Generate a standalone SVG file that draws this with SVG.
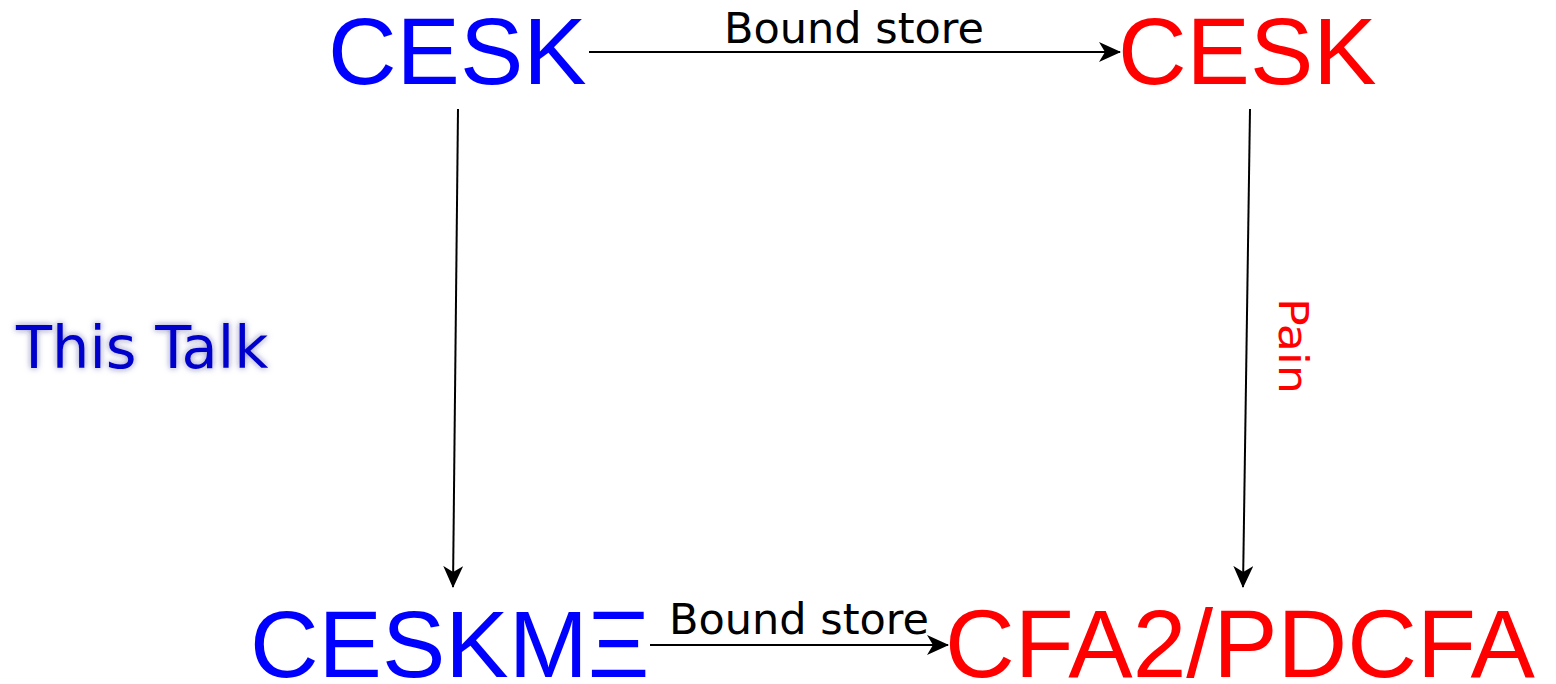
<svg xmlns="http://www.w3.org/2000/svg" width="1556" height="684" viewBox="0 0 1556 684">
<style>
.big{font-family:"Liberation Sans",Arial,sans-serif;font-size:95px}
.blue{fill:#0000ff}
.red{fill:#ff0000}
.lbl{font-family:"DejaVu Sans",sans-serif;font-size:43px;fill:#000}
.edge{stroke:#000;stroke-width:2;fill:none;marker-end:url(#ah)}
</style>
<defs>
<marker id="ah" viewBox="0 0 22 20" refX="21" refY="10" markerWidth="22" markerHeight="20" markerUnits="userSpaceOnUse" orient="auto">
<path d="M0,0 L22,10 L0,20 L6,10 Z" fill="#000"/>
</marker>
<filter id="shadow" x="-10%" y="-30%" width="120%" height="160%">
<feGaussianBlur in="SourceAlpha" stdDeviation="3" result="b"/>
<feFlood flood-color="#202080" flood-opacity="0.55"/>
<feComposite operator="in" in2="b" result="s"/>
<feMerge><feMergeNode in="s"/><feMergeNode in="SourceGraphic"/></feMerge>
</filter>
</defs>
<g id="connectors">
<path class="edge" d="M589,52 L1120,52"/>
<path class="edge" d="M458,109 L453,587"/>
<path class="edge" d="M1250,109 L1243,587"/>
<path class="edge" d="M650,645 L948,645"/>
<text class="lbl" x="724" y="43">Bound store</text>
<text class="lbl" x="669" y="634">Bound store</text>
<text x="1279" y="298" transform="rotate(90 1279 298)" textLength="96" lengthAdjust="spacingAndGlyphs" style="font-family:'DejaVu Sans',sans-serif;font-size:40px" class="red">Pain</text>
</g>
<g id="cesk-blue"><text class="big blue" x="328" y="84">CESK</text></g>
<g id="cesk-red"><text class="big red" x="1118" y="84">CESK</text></g>
<g id="ceskmxi"><text class="big blue" x="250" y="677">CESKMΞ</text></g>
<g id="cfa2"><text class="big red" x="945" y="677" style="font-size:96.5px">CFA2/PDCFA</text></g>
<g id="this-talk"><text x="16" y="368" filter="url(#shadow)" style="font-family:'DejaVu Sans',sans-serif;font-size:59px;fill:#0000cc">This Talk</text></g>
</svg>
